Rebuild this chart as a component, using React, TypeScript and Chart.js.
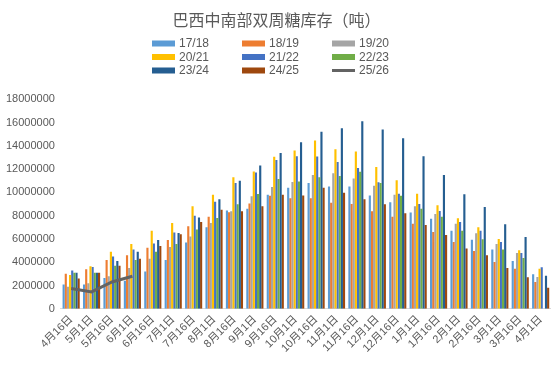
import React, { useEffect, useRef } from "react";
import { Chart, registerables } from "chart.js";

Chart.register(...registerables);

const categories = [
  "4月16日", "5月1日", "5月16日", "6月1日", "6月16日", "7月1日", "7月16日", "8月1日",
  "8月16日", "9月1日", "9月16日", "10月1日", "10月16日", "11月1日", "11月16日", "12月1日",
  "12月16日", "1月1日", "1月16日", "2月1日", "2月16日", "3月1日", "3月16日", "4月1日",
];

const s1718 = [2080000, 2080000, 2650000, 2400000, 3200000, 4200000, 5700000, 7000000, 8450000, 8600000, 9800000, 10400000, 10800000, 10500000, 10500000, 9740000, 9140000, 8280000, 7740000, 6700000, 5940000, 5100000, 4100000, 2970000];
const s1819 = [3000000, 3400000, 4200000, 4600000, 5250000, 5900000, 7100000, 7900000, 8300000, 9050000, 9700000, 9500000, 9500000, 9100000, 9000000, 8370000, 7900000, 7300000, 6600000, 5740000, 4970000, 4030000, 3430000, 2300000];
const s1920 = [1900000, 2200000, 2800000, 3500000, 4300000, 5300000, 6200000, 7370000, 8370000, 9660000, 10450000, 10900000, 11500000, 11650000, 11200000, 10570000, 9800000, 8800000, 8140000, 7300000, 6480000, 5570000, 4800000, 2740000];
const s2021 = [2900000, 3650000, 4900000, 5570000, 6700000, 7370000, 8800000, 9800000, 11300000, 11800000, 13050000, 13600000, 14450000, 13700000, 13500000, 12170000, 11030000, 9880000, 8900000, 7770000, 7000000, 6000000, 5030000, 3430000];
const s2122 = [3300000, 3600000, 4500000, 5100000, 5600000, 6550000, 8000000, 9200000, 10800000, 11700000, 12770000, 13100000, 13080000, 12600000, 12100000, 10860000, 9880000, 9000000, 8400000, 7450000, 6700000, 5740000, 4800000, 3570000];
const s2223 = [3100000, 3100000, 3700000, 4200000, 4900000, 5570000, 6800000, 7800000, 8970000, 9850000, 11140000, 10940000, 11300000, 11400000, 11770000, 10800000, 9700000, 8600000, 7900000, 6700000, 5970000, 5100000, 4370000, null];
const s2324 = [3100000, 3100000, 4100000, 4900000, 5900000, 6500000, 7850000, 9400000, 11000000, 12300000, 13370000, 14300000, 15200000, 15500000, 16100000, 15400000, 14650000, 13100000, 11500000, 9830000, 8740000, 7260000, 6170000, 2830000];
const s2425 = [2600000, 3100000, 3700000, 4300000, 5400000, 6400000, 7450000, 8500000, 8370000, 8800000, 9800000, 9740000, 10400000, 9970000, 9400000, 8970000, 8200000, 7200000, 6340000, 5170000, 4600000, 3500000, 2700000, 1800000];
const s2526 = [1750000, 1450000, 2300000, 2800000];

const seriesLabels = ["17/18", "18/19", "19/20", "20/21", "21/22", "22/23", "23/24", "24/25", "25/26"];
const colors = ["#5B9BD5", "#ED7D31", "#A5A5A5", "#FFC000", "#4472C4", "#70AD47", "#255E91", "#9E480E", "#636363"];

const FONT = "'Liberation Sans', 'Noto Sans CJK SC', sans-serif";
const TEXT = "#595959";

const gridLegend = {
  id: "gridLegend",
  afterDraw(chart: any) {
    const ctx = chart.ctx;
    const colX = [152, 242, 332];
    const rowY = [43.5, 57, 70.5];
    ctx.save();
    ctx.font = "12px " + FONT;
    ctx.textBaseline = "middle";
    ctx.textAlign = "left";
    chart.data.datasets.forEach((ds: any, i: number) => {
      const x = colX[i % 3];
      const y = rowY[Math.floor(i / 3)];
      if (ds.type === "line") {
        ctx.strokeStyle = ds.borderColor;
        ctx.lineWidth = 3;
        ctx.beginPath();
        ctx.moveTo(x, y);
        ctx.lineTo(x + 23, y);
        ctx.stroke();
      } else {
        ctx.fillStyle = ds.backgroundColor;
        ctx.fillRect(x, y - 3, 23, 6);
      }
      ctx.fillStyle = TEXT;
      ctx.fillText(ds.label, x + 27, y + 0.5);
    });
    ctx.restore();
  },
};

export default function App() {
  const ref = useRef<HTMLCanvasElement>(null);
  useEffect(() => {
    const barSeries = [s1718, s1819, s1920, s2021, s2122, s2223, s2324, s2425];
    const datasets: any[] = barSeries.map((d, i) => ({
      type: "bar",
      label: seriesLabels[i],
      data: d,
      backgroundColor: colors[i],
      borderWidth: 0,
      order: 1,
      categoryPercentage: 0.84,
      barPercentage: 1.0,
    }));
    datasets.push({
      type: "line",
      label: seriesLabels[8],
      data: s2526,
      borderColor: colors[8],
      backgroundColor: colors[8],
      borderWidth: 3,
      pointRadius: 0,
      tension: 0,
      order: 0,
    });
    const chart = new Chart(ref.current!, {
      type: "bar",
      data: { labels: categories, datasets },
      options: {
        responsive: false,
        animation: false,
        layout: { padding: { left: 0, right: 1, top: 0, bottom: 14 } },
        plugins: {
          legend: { display: false },
          tooltip: { enabled: false },
          title: {
            display: true,
            text: "巴西中南部双周糖库存（吨）",
            color: TEXT,
            font: { family: FONT, size: 16, weight: "normal" },
            padding: { top: 12, bottom: 68 },
          },
        },
        scales: {
          x: {
            grid: { display: false, drawTicks: false },
            border: { display: true, color: "#D9D9D9", width: 1 },
            ticks: {
              color: TEXT,
              font: { family: FONT, size: 11 },
              maxRotation: 45,
              minRotation: 45,
              autoSkip: false,
              padding: 4,
            },
          },
          y: {
            min: 0,
            max: 18000000,
            grid: { display: false, drawTicks: false },
            border: { display: false },
            ticks: {
              stepSize: 2000000,
              color: TEXT,
              font: { family: FONT, size: 11 },
              padding: 6,
              callback: (v: any) => String(v),
            },
          },
        },
      },
      plugins: [gridLegend],
    });
    return () => chart.destroy();
  }, []);
  return (
    <div style={{ position: "fixed", left: 0, top: 0, width: 554, height: 373, background: "#fff" }}>
      <canvas ref={ref} width={554} height={373} />
    </div>
  );
}
